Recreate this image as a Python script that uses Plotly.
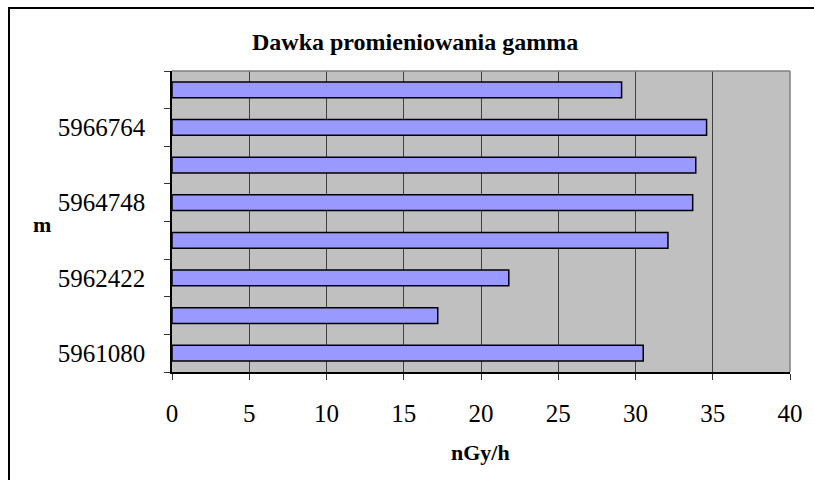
import plotly.graph_objects as go

# Data
categories = ["5961080", "", "5962422", "", "5964748", "", "5966764", ""]
values = [30.5, 17.2, 21.8, 32.1, 33.7, 33.9, 34.6, 29.1]
x_ticks = [0, 5, 10, 15, 20, 25, 30, 35, 40]
title_text = "Dawka promieniowania gamma"
x_title = "nGy/h"
y_title = "m"

positions = list(range(len(categories)))
label_pos = [p for p, c in zip(positions, categories) if c]
label_txt = [c for c in categories if c]

FONT = "Liberation Serif, Times New Roman, serif"

fig = go.Figure()
fig.add_trace(go.Bar(
    x=values, y=positions, orientation="h",
    marker=dict(color="#9999FF", line=dict(color="#000000", width=1.5)),
    width=0.42,
    hoverinfo="x",
))

L, R, T, B = 172, 24, 71, 108
W, H = 814, 480
pw, ph = W - L - R, H - T - B

fig.update_layout(
    width=W, height=H,
    margin=dict(l=L, r=R, t=T, b=B),
    paper_bgcolor="white",
    plot_bgcolor="#C0C0C0",
    showlegend=False,
    font=dict(family=FONT, color="black"),
    xaxis=dict(
        range=[0, 40], tickvals=x_ticks, ticktext=[str(v) for v in x_ticks],
        showgrid=True, gridcolor="#404040", gridwidth=1,
        zeroline=False,
        showline=True, linecolor="#000000", linewidth=1.5,
        ticks="outside", ticklen=6, tickcolor="#333333", tickwidth=1,
        tickfont=dict(size=25, family=FONT),
        ticklabelstandoff=12,
        mirror=False,
    ),
    yaxis=dict(
        range=[-0.5, len(categories) - 0.5],
        tickvals=label_pos, ticktext=label_txt,
        showgrid=False, zeroline=False,
        showline=True, linecolor="#000000", linewidth=1.5,
        ticks="", ticklen=0,
        tickfont=dict(size=25, family=FONT),
        ticklabelstandoff=20,
        minor=dict(tickvals=[p - 0.5 for p in positions] + [len(categories) - 0.5],
                   ticks="outside", ticklen=6, tickcolor="#333333", tickwidth=1,
                   showgrid=False),
    ),
)

def px_x(px):
    return (px - L) / pw

def px_y(py):
    return (H - B - py) / ph

# plot-area grey frame (top/right)
fig.add_shape(type="line", xref="paper", yref="paper", x0=0, x1=1, y0=1, y1=1,
              line=dict(color="#808080", width=1.5))
fig.add_shape(type="line", xref="paper", yref="paper", x0=1, x1=1, y0=0, y1=1,
              line=dict(color="#808080", width=1.5))

# chart outer border
fig.add_shape(type="rect", xref="paper", yref="paper",
              x0=px_x(9), x1=px_x(830), y0=px_y(8), y1=px_y(500),
              line=dict(color="#000000", width=2), layer="above")

fig.add_annotation(text="<b>%s</b>" % title_text, xref="paper", yref="paper",
                   x=px_x(415), y=px_y(42), showarrow=False,
                   font=dict(size=24, family=FONT), xanchor="center", yanchor="middle")
fig.add_annotation(text="<b>%s</b>" % x_title, xref="paper", yref="paper",
                   x=px_x(480), y=px_y(452), showarrow=False,
                   font=dict(size=22, family=FONT), xanchor="center", yanchor="middle")
fig.add_annotation(text="<b>%s</b>" % y_title, xref="paper", yref="paper",
                   x=px_x(42), y=px_y(224), showarrow=False,
                   font=dict(size=22, family=FONT), xanchor="center", yanchor="middle")

fig.write_html("out.html", config={"displayModeBar": False},
               post_script="document.body.style.margin='0';document.body.style.overflow='hidden';")
